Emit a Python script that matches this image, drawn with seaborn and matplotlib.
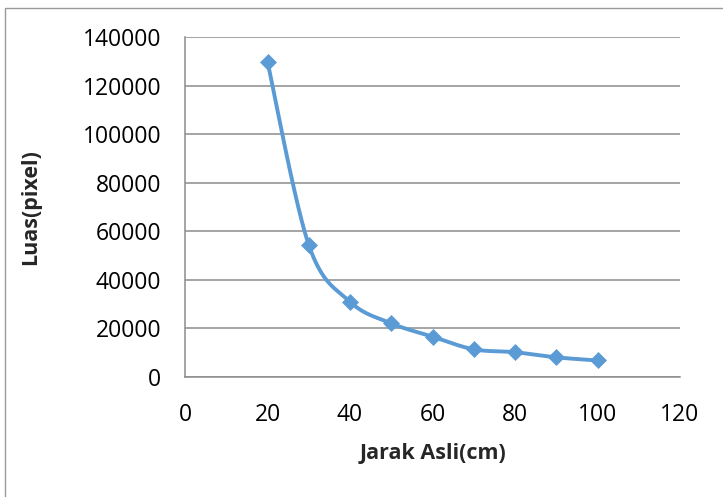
import numpy as np
import pandas as pd
import matplotlib
matplotlib.use("Agg")
import matplotlib.pyplot as plt
import seaborn as sns
from matplotlib.patches import Rectangle

jarak = [20, 30, 40, 50, 60, 70, 80, 90, 100]
luas = [129800, 54400, 31000, 22100, 16600, 11400, 10200, 8100, 6800]
x_ticks = [0, 20, 40, 60, 80, 100, 120]
y_ticks = [0, 20000, 40000, 60000, 80000, 100000, 120000, 140000]
x_label = "Jarak Asli(cm)"
y_label = "Luas(pixel)"
color = "#5B9BD5"

sns.set_theme(style="white")
plt.rcParams['font.family'] = ['Open Sans', 'DejaVu Sans']


def excel_smooth(xs, ys, n=40):
    # Catmull-Rom style Bezier smoothing (as used by spreadsheet "smoothed line")
    xs = np.asarray(xs, float)
    ys = np.asarray(ys, float)
    px = np.concatenate([[xs[0]], xs, [xs[-1]]])
    py = np.concatenate([[ys[0]], ys, [ys[-1]]])
    out_x, out_y = [], []
    t = np.linspace(0, 1, n)
    for i in range(1, len(px) - 2):
        p0 = np.array([px[i], py[i]])
        p3 = np.array([px[i + 1], py[i + 1]])
        c1 = p0 + (np.array([px[i + 1], py[i + 1]]) - np.array([px[i - 1], py[i - 1]])) / 6
        c2 = p3 - (np.array([px[i + 2], py[i + 2]]) - np.array([px[i], py[i]])) / 6
        b = ((1 - t) ** 3)[:, None] * p0 + (3 * (1 - t) ** 2 * t)[:, None] * c1 \
            + (3 * (1 - t) * t ** 2)[:, None] * c2 + (t ** 3)[:, None] * p3
        out_x.extend(b[:, 0])
        out_y.extend(b[:, 1])
    return np.array(out_x), np.array(out_y)


sx, sy = excel_smooth(jarak, luas)
curve = pd.DataFrame({"x": sx, "y": sy})
pts = pd.DataFrame({"Jarak": jarak, "Luas": luas})

fig = plt.figure(figsize=(7.23, 4.97), dpi=100)
ax = fig.add_axes([185 / 723, 1 - 377 / 497, (680 - 185) / 723, (377 - 37) / 497])

sns.lineplot(data=curve, x="x", y="y", ax=ax, color=color, lw=2.8, sort=False,
             estimator=None, zorder=3)
sns.scatterplot(data=pts, x="Jarak", y="Luas", ax=ax, color=color, marker="D",
                s=75, edgecolor=color, linewidth=0, zorder=4)

ax.set_xlim(0, 120)
ax.set_ylim(0, 140000)
ax.set_xticks(x_ticks)
ax.set_yticks(y_ticks)
ax.set_xticklabels([str(v) for v in x_ticks], fontsize=16.5)
ax.set_yticklabels([str(v) for v in y_ticks], fontsize=16.5)
ax.tick_params(axis="both", length=0, colors="black")
ax.tick_params(axis="y", pad=17)
ax.tick_params(axis="x", pad=19)

ax.yaxis.grid(True, color="#8c8c8c", lw=1.1)
ax.xaxis.grid(False)
for side in ["top", "right"]:
    ax.spines[side].set_visible(False)
for side in ["left", "bottom"]:
    ax.spines[side].set_color("#8c8c8c")
    ax.spines[side].set_linewidth(1.1)

ax.set_xlabel(x_label, fontsize=15.5, fontweight="bold")
ax.set_ylabel(y_label, fontsize=15.5, fontweight="bold")
ax.yaxis.set_label_coords(-0.291, 0.5)
ax.xaxis.set_label_coords(0.5, -0.194)

fig.patches.append(Rectangle((5 / 723, -0.1), 1.2, 1 - 8 / 497 + 0.1, transform=fig.transFigure,
                             fill=False, edgecolor="#9a9a9a", lw=1.0))

fig.savefig("out.png", dpi=100)
